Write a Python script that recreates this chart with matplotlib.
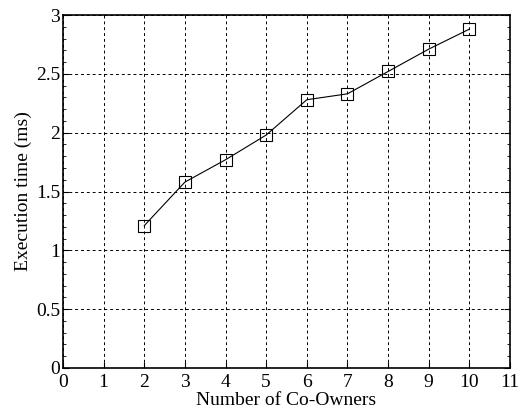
import matplotlib
matplotlib.use("Agg")
import matplotlib.pyplot as plt
from matplotlib.ticker import MultipleLocator

co_owners = [2, 3, 4, 5, 6, 7, 8, 9, 10]
exec_time = [1.21, 1.58, 1.77, 1.98, 2.28, 2.33, 2.52, 2.71, 2.88]

plt.rcParams['font.family'] = ['Liberation Serif', 'DejaVu Serif']

fig = plt.figure(figsize=(5.19, 4.13), dpi=100)
ax = fig.add_axes([63/519, 1 - 368/413, (510-63)/519, (368-15)/413])

ax.plot(co_owners, exec_time, color='black', linewidth=0.8, marker='s',
        markersize=8, markerfacecolor='none', markeredgecolor='black', markeredgewidth=0.8)

ax.set_xlim(0, 11)
ax.set_ylim(0, 3)
ax.xaxis.set_major_locator(MultipleLocator(1))
ax.yaxis.set_major_locator(MultipleLocator(0.5))
ax.yaxis.set_minor_locator(MultipleLocator(0.1))
ax.yaxis.set_major_formatter(plt.FuncFormatter(lambda v, p: f"{v:g}"))
ax.grid(True, which='major', color='black', linestyle=(0, (3, 3)), linewidth=0.7)
ax.tick_params(which='both', direction='in', left=True, right=True, top=False, bottom=True,
               labelsize=14)
ax.tick_params(axis='y', pad=2)
ax.tick_params(axis='x', pad=4)
ax.tick_params(which='major', length=4)
ax.tick_params(which='minor', length=2)
for s in ax.spines.values():
    s.set_linewidth(1.2)

ax.set_xlabel('Number of Co-Owners', fontsize=14, labelpad=1)
ax.set_ylabel('Execution time (ms)', fontsize=14, labelpad=3)

fig.savefig('out.png', dpi=100)
